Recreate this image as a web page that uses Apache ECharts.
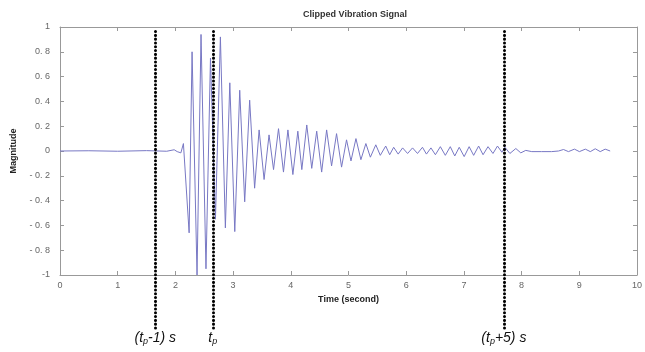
<!doctype html>
<html>
<head>
    <meta charset="utf-8" />
    <script src="https://cdn.jsdelivr.net/npm/echarts@6/dist/echarts.min.js"></script>
    <style>
        html, body { margin: 0; padding: 0; background: #fff; }
        #chart { width: 645px; height: 352px; }
    </style>
</head>
<body>
<div id="chart"></div>
<script>
// signal samples (time in s, magnitude)
const timeSec = [
    0, 0.5, 1.0, 1.5, 1.85, 1.979, 2.031, 2.095, 2.139,
    2.238, 2.289, 2.375, 2.444, 2.530, 2.608, 2.694, 2.780, 2.866, 2.943,
    3.029, 3.115, 3.201, 3.287, 3.373, 3.451, 3.537, 3.623, 3.701, 3.787,
    3.873, 3.950, 4.036, 4.122, 4.191, 4.277, 4.363, 4.449, 4.535, 4.621,
    4.707, 4.793, 4.880, 4.966, 5.043, 5.129, 5.215, 5.301, 5.379, 5.473,
    5.551, 5.645, 5.714, 5.783, 5.861, 5.938, 6.024, 6.110, 6.196, 6.282,
    6.351, 6.429, 6.506, 6.592, 6.678, 6.764, 6.842, 6.919, 7.005, 7.091,
    7.169, 7.255, 7.332, 7.418, 7.504, 7.582, 7.659, 7.711, 7.797, 7.900,
    7.986, 8.072, 8.176, 8.348, 8.520, 8.640, 8.726, 8.812, 8.916, 9.002,
    9.105, 9.191, 9.277, 9.363, 9.449, 9.535
];
const magnitude = [
    0, 0.002, -0.002, 0.003, -0.002, 0.01, -0.005, -0.015, 0.06,
    -0.66, 0.80, -1.0, 0.94, -0.95, 0.75, -0.55, 0.92, -0.62, 0.55,
    -0.65, 0.49, -0.41, 0.41, -0.30, 0.17, -0.23, 0.13, -0.15, 0.18,
    -0.17, 0.17, -0.19, 0.16, -0.15, 0.21, -0.14, 0.16, -0.17, 0.17,
    -0.12, 0.14, -0.13, 0.09, -0.08, 0.10, -0.07, 0.06, -0.05, 0.05,
    -0.035, 0.04, -0.03, 0.03, -0.025, 0.025, -0.02, 0.025, -0.02, 0.03,
    -0.025, 0.025, -0.03, 0.035, -0.035, 0.035, -0.04, 0.03, -0.045, 0.035,
    -0.035, 0.04, -0.03, 0.035, -0.02, 0.04, -0.01, 0.03, -0.02, 0.02,
    -0.015, 0.005, -0.005, -0.005, -0.005, 0.0, 0.012, -0.005, 0.015, -0.005,
    0.015, -0.005, 0.018, -0.005, 0.015, 0.0
];

const markTimes = [1.635, 2.633, 7.642];
const markLabels = ['(t{s|p}-1) s', 't{s|p}', '(t{s|p}+5) s'];

const yTicks = [-1, -0.8, -0.6, -0.4, -0.2, 0, 0.2, 0.4, 0.6, 0.8, 1];
const yTickLabels = ['-1', '- 0. 8', '- 0. 6', '- 0. 4', '- 0. 2', '0', '0. 2', '0. 4', '0. 6', '0. 8', '1'];

const frameColor = '#999';
const labelColor = '#666';

let chart = echarts.init(document.getElementById('chart'), null, { renderer: 'canvas' });

let boxAxis = {
    axisLine: { show: true, onZero: false, lineStyle: { color: frameColor, width: 1 } },
    axisTick: { show: true, inside: true, length: 4, lineStyle: { color: frameColor } },
    splitLine: { show: false }
};

let options = {
    animation: false,
    title: {
        text: 'Clipped Vibration Signal',
        left: 350,
        top: 5,
        textAlign: 'center',
        textStyle: { fontSize: 9, fontWeight: 'bold', color: '#333', fontFamily: 'Liberation Sans' }
    },
    grid: [
        { left: 60, right: 4, top: 27, bottom: 77 },
        // taller grid used only for the dotted marker lines
        { left: 60, right: 4, top: 30, bottom: 24 }
    ],
    xAxis: [
        Object.assign({}, boxAxis, {
            type: 'value', gridIndex: 0, min: 0, max: 10, interval: 1,
            name: 'Time (second)', nameLocation: 'middle', nameGap: 20,
            nameTextStyle: { fontSize: 9, fontWeight: 'bold', color: '#222', fontFamily: 'Liberation Sans' },
            axisLabel: { fontSize: 9, color: labelColor, margin: 6, fontFamily: 'Liberation Sans' }
        }),
        Object.assign({}, boxAxis, {
            type: 'value', gridIndex: 0, position: 'top', min: 0, max: 10, interval: 1,
            axisLabel: { show: false }
        }),
        { type: 'value', gridIndex: 1, min: 0, max: 10, show: false }
    ],
    yAxis: [
        Object.assign({}, boxAxis, {
            type: 'value', gridIndex: 0, min: -1, max: 1, interval: 0.2,
            name: 'Magnitude', nameLocation: 'middle', nameGap: 42, nameRotate: 90,
            nameTextStyle: { fontSize: 9, fontWeight: 'bold', color: '#222', fontFamily: 'Liberation Sans' },
            axisLabel: {
                fontSize: 9, color: labelColor, margin: 10, fontFamily: 'Liberation Sans',
                formatter: v => {
                    let i = yTicks.indexOf(Math.round(v * 10) / 10);
                    return i >= 0 ? yTickLabels[i] : '';
                }
            }
        }),
        Object.assign({}, boxAxis, {
            type: 'value', gridIndex: 0, position: 'right', min: -1, max: 1, interval: 0.2,
            axisLabel: { show: false }
        }),
        { type: 'value', gridIndex: 1, min: 0, max: 1, show: false }
    ],
    series: [
        {
            type: 'line',
            xAxisIndex: 0,
            yAxisIndex: 0,
            data: timeSec.map((t, i) => [t, magnitude[i]]),
            showSymbol: false,
            lineStyle: { color: '#7878c4', width: 1 },
            z: 2
        },
        {
            type: 'line',
            xAxisIndex: 2,
            yAxisIndex: 2,
            data: [],
            z: 5,
            markLine: {
                silent: true,
                symbol: 'none',
                lineStyle: { color: '#000', width: 3, type: [0.1, 3.7], cap: 'round' },
                label: {
                    show: true,
                    position: 'start',
                    distance: 3,
                    fontSize: 14,
                    fontStyle: 'italic',
                    color: '#111',
                    fontFamily: 'Liberation Sans',
                    rich: {
                        s: { fontSize: 9, fontStyle: 'italic', color: '#111', fontFamily: 'Liberation Sans', padding: [6, 0, 0, 0] }
                    }
                },
                data: markTimes.map((t, i) => ({ xAxis: t, label: { formatter: markLabels[i] } }))
            }
        }
    ]
};

chart.setOption(options);
</script>
</body>
</html>
